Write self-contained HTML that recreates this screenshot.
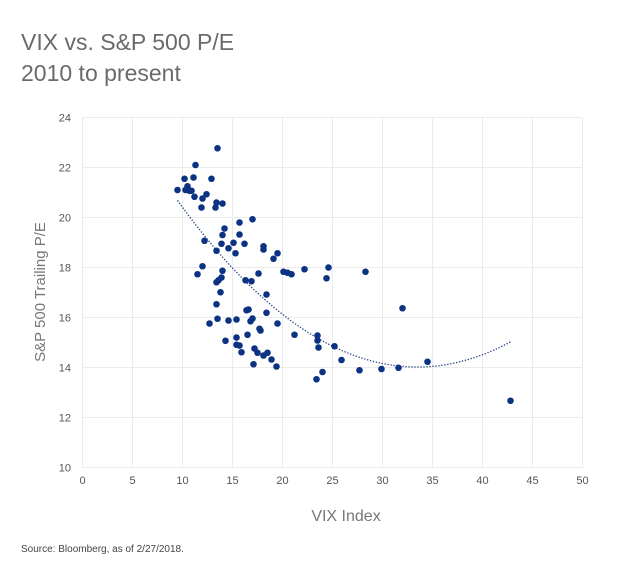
<!DOCTYPE html>
<html><head><meta charset="utf-8"><style>
body{margin:0;background:#fff;}
svg text{font-family:"Liberation Sans",sans-serif;}
</style></head><body>
<svg id="chart" width="620" height="580" xmlns="http://www.w3.org/2000/svg">
<text x="21" y="50" font-size="23" fill="#6a6a6a">VIX vs. S&amp;P 500 P/E</text>
<text x="21" y="81" font-size="23" fill="#6a6a6a">2010 to present</text>
<g id="grid"></g>
<g id="ticks"></g>
<g id="trend"></g>
<g id="points"></g>
<text x="0" y="0" transform="translate(45,292) rotate(-90)" text-anchor="middle" font-size="15" fill="#777">S&amp;P 500 Trailing P/E</text>
<text x="346" y="521" text-anchor="middle" font-size="16" fill="#777">VIX Index</text>
<text x="21" y="552" font-size="10" fill="#444">Source: Bloomberg, as of 2/27/2018.</text>
</svg>
<script>
const xTicks=[0,5,10,15,20,25,30,35,40,45,50];
const yTicks=[10,12,14,16,18,20,22,24];
const vix=[13.5,11.3,10.2,11.1,12.9,9.5,10.5,10.3,10.7,10.9,11.2,12.4,12.0,13.4,14.0,11.9,13.3,15.7,17.0,14.2,14.0,15.7,12.2,13.9,15.1,14.6,16.2,13.4,15.3,18.1,18.1,19.5,19.1,12.0,11.5,14.0,17.6,20.1,20.5,20.9,22.2,13.9,13.6,13.4,16.3,16.9,13.8,18.4,13.4,16.4,16.6,18.4,12.7,13.5,14.6,15.4,16.8,17.0,19.5,17.7,17.8,21.2,14.3,15.4,16.5,15.4,15.7,23.5,23.5,23.6,15.9,17.2,17.5,18.1,18.5,18.9,17.1,19.4,23.4,24.6,24.4,28.3,32.0,25.2,25.9,24.0,27.7,29.9,31.6,34.5,42.8];
const pe=[22.77,22.1,21.55,21.6,21.55,21.1,21.25,21.1,21.07,21.07,20.83,20.93,20.76,20.6,20.56,20.4,20.4,19.8,19.93,19.56,19.3,19.32,19.07,18.95,18.99,18.77,18.95,18.67,18.57,18.85,18.72,18.57,18.35,18.05,17.73,17.87,17.76,17.83,17.79,17.73,17.93,17.6,17.49,17.41,17.49,17.45,17.01,16.92,16.53,16.29,16.32,16.19,15.76,15.95,15.88,15.92,15.85,15.96,15.76,15.55,15.48,15.31,15.07,15.2,15.31,14.91,14.88,15.28,15.08,14.8,14.61,14.76,14.59,14.48,14.59,14.32,14.13,14.04,13.53,18.0,17.57,17.83,16.37,14.85,14.3,13.82,13.89,13.94,13.99,14.23,12.67];
const NS="http://www.w3.org/2000/svg";
const X0=82.5,X1=582.5,Y0=467.5,Y1=117.5;
function sx(v){return X0+(v-0)/50*(X1-X0);}
function sy(v){return Y0-(v-10)/14*(Y0-Y1);}
function mk(tag,attrs,parent){const e=document.createElementNS(NS,tag);for(const k in attrs)e.setAttribute(k,attrs[k]);parent.appendChild(e);return e;}
const grid=document.getElementById('grid'),ticks=document.getElementById('ticks');
xTicks.forEach(t=>{
 const l=mk('line',{x1:sx(t),x2:sx(t),y1:Y1,y2:Y0,stroke:'#ebebeb','stroke-width':1},grid);
 
 
 const tx=mk('text',{x:sx(t),y:484,'text-anchor':'middle','font-size':11,fill:'#555'},ticks);
 tx.textContent=t;
 
 
});
yTicks.forEach(t=>{
 const l=mk('line',{x1:X0,x2:X1,y1:sy(t),y2:sy(t),stroke:'#ebebeb','stroke-width':1},grid);
 
 
 const tx=mk('text',{x:71,y:sy(t)+4,'text-anchor':'end','font-size':11,fill:'#555'},ticks);
 tx.textContent=t;
 
 
});
(function(){
 let n=vix.length,S=[0,0,0,0,0],T=[0,0,0];
 for(let i=0;i<n;i++){let x=vix[i],y=pe[i];for(let k=0;k<5;k++)S[k]+=Math.pow(x,k);for(let k=0;k<3;k++)T[k]+=y*Math.pow(x,k);}
 let A=[[S[0],S[1],S[2],T[0]],[S[1],S[2],S[3],T[1]],[S[2],S[3],S[4],T[2]]];
 for(let i=0;i<3;i++){for(let j=i+1;j<3;j++){let f=A[j][i]/A[i][i];for(let k=i;k<4;k++)A[j][k]-=f*A[i][k];}}
 let c=[0,0,0];for(let i=2;i>=0;i--){let s=A[i][3];for(let k=i+1;k<3;k++)s-=A[i][k]*c[k];c[i]=s/A[i][i];}
 let mn=Math.min(...vix),mx=Math.max(...vix),d='';
 for(let j=0;j<=80;j++){let x=mn+(mx-mn)*j/80,y=c[0]+c[1]*x+c[2]*x*x;d+=(j?'L':'M')+sx(x).toFixed(1)+','+sy(y).toFixed(1);}
 const p=mk('path',{d:d,fill:'none',stroke:'#1f3f80','stroke-width':1.3,'stroke-dasharray':'1.3,1.7'},document.getElementById('trend'));
 
 
})();
const pts=document.getElementById('points');
vix.forEach((v,i)=>{
 const c=mk('circle',{cx:sx(v),cy:sy(pe[i]),r:3.3,fill:'#0c3383'},pts);
 
 
});
</script>
</body></html>
